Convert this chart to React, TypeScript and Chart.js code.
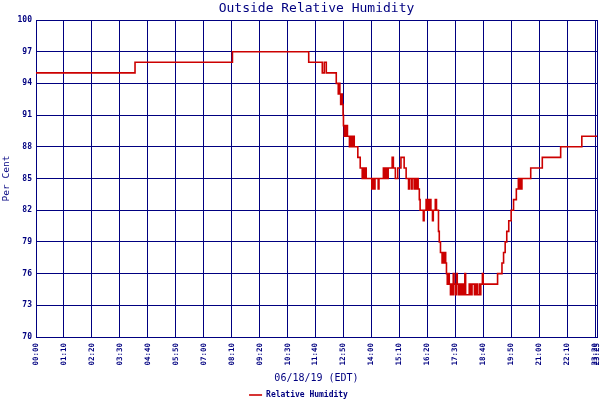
import React, { useEffect, useRef } from "react";
import { Chart, registerables } from "chart.js";

Chart.register(...registerables);

// Times (EDT) at which the reading changed, and the reading from then on (%)
const times: string[] = [
  "00:00", "04:08", "08:12", "11:23", "11:57", "12:02", "12:07", "12:32", "12:37", "12:39",
  "12:41", "12:43", "12:45", "12:47", "12:49", "12:50", "12:52", "12:54", "12:56", "12:58",
  "13:00", "13:05", "13:07", "13:09", "13:11", "13:13", "13:15", "13:17", "13:26", "13:32",
  "13:37", "13:39", "13:42", "13:44", "13:47", "14:01", "14:04", "14:06", "14:09", "14:17",
  "14:19", "14:30", "14:32", "14:34", "14:36", "14:38", "14:40", "14:42", "14:52", "14:55",
  "15:00", "15:06", "15:14", "15:22", "15:27", "15:33", "15:35", "15:40", "15:42", "15:47",
  "15:50", "15:52", "15:55", "15:57", "16:00", "16:02", "16:10", "16:12", "16:17", "16:20",
  "16:22", "16:25", "16:27", "16:29", "16:33", "16:35", "16:40", "16:43", "16:48", "16:50",
  "16:53", "16:57", "16:59", "17:01", "17:04", "17:06", "17:08", "17:10", "17:13", "17:15",
  "17:18", "17:20", "17:23", "17:25", "17:27", "17:30", "17:33", "17:35", "17:38", "17:42",
  "17:45", "17:48", "17:52", "17:54", "17:56", "18:05", "18:08", "18:12", "18:18", "18:22",
  "18:25", "18:30", "18:32", "18:34", "18:38", "18:40", "19:16", "19:27", "19:31", "19:35",
  "19:39", "19:44", "19:50", "19:56", "20:03", "20:08", "20:10", "20:13", "20:15", "20:17",
  "20:39", "21:08", "21:54", "22:47", "23:25",
];
const humidity: number[] = [
  95, 96, 97, 96, 95, 96, 95, 94, 93, 94,
  93, 92, 93, 92, 91, 90, 89, 90, 89, 90,
  89, 88, 89, 88, 89, 88, 89, 88, 87, 86,
  85, 86, 85, 86, 85, 84, 85, 84, 85, 84,
  85, 86, 85, 86, 85, 86, 85, 86, 87, 86,
  85, 86, 87, 86, 85, 84, 85, 84, 85, 84,
  85, 84, 85, 84, 83, 82, 81, 82, 83, 82,
  83, 82, 83, 82, 81, 82, 83, 82, 80, 79,
  78, 77, 78, 77, 78, 77, 76, 75, 76, 75,
  74, 75, 74, 76, 75, 74, 76, 75, 74, 75,
  74, 75, 74, 76, 74, 75, 74, 75, 74, 75,
  74, 75, 74, 75, 76, 75, 76, 77, 78, 79,
  80, 81, 82, 83, 84, 85, 84, 85, 84, 85,
  86, 87, 88, 89, 89,
];
const xTickTimes: string[] = [
  "00:00", "01:10", "02:20", "03:30", "04:40", "05:50", "07:00", "08:10", "09:20", "10:30",
  "11:40", "12:50", "14:00", "15:10", "16:20", "17:30", "18:40", "19:50", "21:00", "22:10",
  "23:20", "23:25",
];
const yTicks: number[] = [70, 73, 76, 79, 82, 85, 88, 91, 94, 97, 100];

const NAVY = "#000080";
const RED = "#cc0000";
const MONO = "'DejaVu Sans Mono', 'Liberation Mono', monospace";

const toMin = (s: string) => {
  const [h, m] = s.split(":").map(Number);
  return h * 60 + m;
};
const fmt = (v: number) => {
  const h = Math.floor(v / 60);
  const m = Math.round(v - h * 60);
  return `${String(h).padStart(2, "0")}:${String(m).padStart(2, "0")}`;
};

export default function App() {
  const ref = useRef<HTMLCanvasElement>(null);

  useEffect(() => {
    if (!ref.current) return;
    const data = times.map((t, i) => ({ x: toMin(t), y: humidity[i] }));
    const xTicks = xTickTimes.map(toMin);
    const chart = new Chart(ref.current, {
      type: "line",
      data: {
        datasets: [
          {
            label: "Relative Humidity",
            data,
            borderColor: RED,
            backgroundColor: RED,
            borderWidth: 1.6,
            pointRadius: 0,
            stepped: "before",
            fill: false,
          },
        ],
      },
      options: {
        animation: false,
        responsive: false,
        maintainAspectRatio: false,
        devicePixelRatio: 1,
        layout: { padding: { left: 0, right: 3, top: 0, bottom: 0 } },
        plugins: {
          title: {
            display: true,
            text: "Outside Relative Humidity",
            color: NAVY,
            fullSize: false,
            font: { family: MONO, size: 13, weight: "normal" },
            padding: { top: 0.5, bottom: 3.9 },
          },
          legend: {
            display: true,
            position: "bottom",
            maxHeight: 10,
            labels: {
              usePointStyle: true,
              pointStyle: "line",
              pointStyleWidth: 13,
              boxHeight: 8,
              padding: 1,
              color: NAVY,
              font: { family: MONO, size: 8, weight: "bold" },
            },
          },
          tooltip: { enabled: false },
        },
        scales: {
          x: {
            type: "linear",
            min: xTicks[0],
            max: xTicks[xTicks.length - 1],
            afterBuildTicks: (s: any) => {
              s.ticks = xTicks.map((v) => ({ value: v }));
            },
            afterFit: (s: any) => {
              s.height = 53;
              s.paddingLeft = 0;
              s.paddingRight = 0;
            },
            ticks: {
              autoSkip: false,
              minRotation: 90,
              maxRotation: 90,
              padding: 6,
              color: NAVY,
              font: { family: MONO, size: 7.5, weight: "bold" },
              callback: (v: any) => fmt(Number(v)),
            },
            grid: { color: NAVY, lineWidth: 1, drawTicks: false },
            border: { color: NAVY, width: 1 },
            title: {
              display: true,
              text: "06/18/19 (EDT)",
              color: NAVY,
              font: { family: MONO, size: 10 },
              padding: { top: 0, bottom: 5.5 },
            },
          },
          y: {
            type: "linear",
            min: yTicks[0],
            max: yTicks[yTicks.length - 1],
            afterBuildTicks: (s: any) => {
              s.ticks = yTicks.map((v) => ({ value: v }));
            },
            afterFit: (s: any) => {
              s.width = 36;
            },
            ticks: {
              padding: 4,
              color: NAVY,
              font: { family: MONO, size: 8, weight: "bold" },
            },
            grid: { color: NAVY, lineWidth: 1, drawTicks: false },
            border: { color: NAVY, width: 1 },
            title: {
              display: true,
              text: "Per Cent",
              color: NAVY,
              font: { family: MONO, size: 9.5 },
              padding: { top: 1, bottom: 0 },
            },
          },
        },
      },
    });
    return () => chart.destroy();
  }, []);

  return (
    <div style={{ position: "fixed", left: 0, top: 0, width: 600, height: 400, background: "#ffffff" }}>
      <canvas ref={ref} width={600} height={400} style={{ width: 600, height: 400, display: "block" }} />
    </div>
  );
}
